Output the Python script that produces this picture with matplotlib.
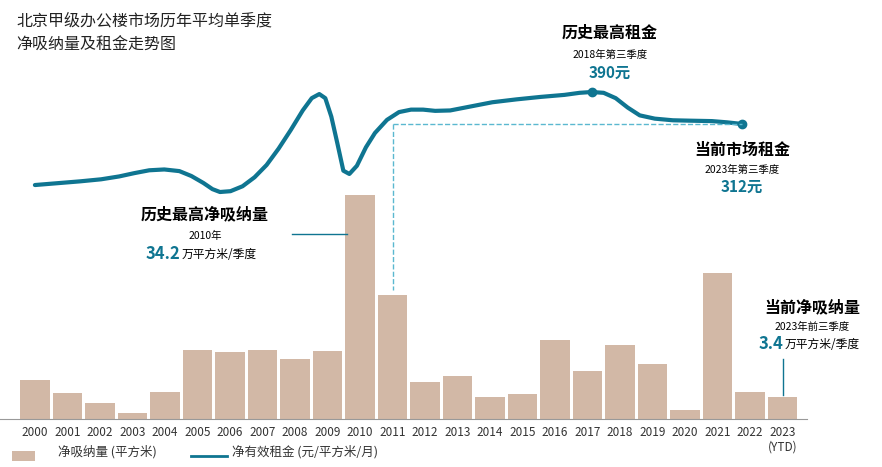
import matplotlib.pyplot as plt

plt.rcParams['font.family'] = ['Noto Sans CJK SC', 'DejaVu Sans']

years = [str(y) for y in range(2000, 2024)]
absorption = [6.0, 4.0, 2.4, 0.9, 4.1, 10.5, 10.2, 10.5, 9.2, 10.4, 34.2, 18.9,
              5.6, 6.6, 3.4, 3.8, 12.1, 7.3, 11.3, 8.4, 1.4, 22.3, 4.1, 3.4]

rent_t = [2000.0, 2000.5, 2001.0, 2001.5, 2002.2, 2002.8, 2003.3, 2003.8, 2004.3,
          2004.8, 2005.2, 2005.6, 2005.9, 2006.15, 2006.5, 2006.9, 2007.3, 2007.7,
          2008.1, 2008.5, 2008.9, 2009.2, 2009.45, 2009.65, 2009.85, 2010.05,
          2010.25, 2010.45, 2010.7, 2011.0, 2011.3, 2011.7, 2012.1, 2012.5,
          2012.9, 2013.3, 2013.8, 2014.5, 2015.2, 2016.0, 2016.8, 2017.6, 2018.1,
          2018.5, 2018.9, 2019.3, 2019.7, 2020.1, 2020.6, 2021.2, 2021.8, 2022.5,
          2023.0, 2023.5]
rent = [163, 166, 169, 172, 177, 184, 192, 199, 201, 197, 185, 168, 153, 146, 148,
        160, 182, 212, 252, 297, 345, 375, 385, 375, 330, 265, 198, 190, 210, 255,
        290, 322, 341, 347, 347, 344, 345, 355, 365, 372, 378, 383, 388, 390, 388,
        375, 352, 333, 325, 321, 320, 319, 316, 312]

bar_c = '#d2b8a6'
line_c = '#0f7591'
navy = '#0f7591'

fig = plt.figure(figsize=(8.82, 4.67), dpi=100)
ax = fig.add_axes([0, 0, 1, 1])
ax.set_xlim(-1.077, 26.06)
ax.set_ylim(-7.33, 64.0)
ax.axis('off')
x = list(range(len(years)))
ax.bar(x, absorption, width=0.9, color=bar_c)
ax.axhline(0, xmin=0.0, xmax=0.915, color='#999999', lw=0.8)
for i, y in enumerate(years):
    ax.text(i, -1.0, y, ha='center', va='top', fontsize=8.5, color='#333333')
ax.text(23, -3.3, '(YTD)', ha='center', va='top', fontsize=8.5, color='#333333')

lx = fig.add_axes([0, 0, 1, 1])
lx.patch.set_alpha(0)
lx.set_xlim(1998.84, 2028.15)
lx.set_ylim(-525, 614.5)
lx.axis('off')
lx.plot(rent_t, rent, color=line_c, lw=3, solid_capstyle='round', solid_joinstyle='round')
lx.plot([2018.5, 2023.5], [390, 312], 'o', color=line_c, ms=6)
lx.plot([2011.9, 2011.9], [312, -93], '--', color='#5bb8d0', lw=1)
lx.plot([2011.9, 2023.5], [312, 312], '--', color='#5bb8d0', lw=1)

def ft(px, py, s, **kw):
    fig.text(px / 882, 1 - py / 467, s, **kw)

ft(16, 33, '北京甲级办公楼市场历年平均单季度\n净吸纳量及租金走势图', fontsize=11.5, va='center',
   linespacing=1.6, color='#222222')
ft(610, 33, '历史最高租金', fontsize=11.5, fontweight='bold', ha='center', va='center')
ft(610, 55, '2018年第三季度', fontsize=7.5, ha='center', va='center')
ft(610, 73, '390元', fontsize=11, fontweight='bold', ha='center', va='center', color=navy)
ft(742, 150, '当前市场租金', fontsize=11.5, fontweight='bold', ha='center', va='center')
ft(742, 170, '2023年第三季度', fontsize=7.5, ha='center', va='center')
ft(742, 187, '312元', fontsize=11, fontweight='bold', ha='center', va='center', color=navy)
ft(205, 214, '历史最高净吸纳量', fontsize=11.5, fontweight='bold', ha='center', va='center')
ft(205, 236, '2010年', fontsize=7.5, ha='center', va='center')
ft(180, 254, '34.2', fontsize=12, fontweight='bold', ha='right', va='center', color=navy)
ft(182, 254, '万平方米/季度', fontsize=8.5, ha='left', va='center')
ax.plot([7.9, 9.6], [28.2, 28.2], color=navy, lw=1)
ft(812, 307, '当前净吸纳量', fontsize=11.5, fontweight='bold', ha='center', va='center')
ft(812, 327, '2023年前三季度', fontsize=7.5, ha='center', va='center')
ft(783, 344, '3.4', fontsize=12, fontweight='bold', ha='right', va='center', color=navy)
ft(785, 344, '万平方米/季度', fontsize=8.5, ha='left', va='center')
ax.plot([23, 23], [3.6, 9.1], color=navy, lw=1)

# legend
ax.bar([-0.35], [1.5], bottom=-6.35, width=0.7, color=bar_c)
ft(58, 452, '净吸纳量 (平方米)', fontsize=9, va='center', color='#333333')
ax.plot([4.8, 5.9], [-5.6, -5.6], color=line_c, lw=2)
ft(232, 452, '净有效租金 (元/平方米/月)', fontsize=9, va='center', color='#333333')

fig.savefig('out.png', dpi=100)
